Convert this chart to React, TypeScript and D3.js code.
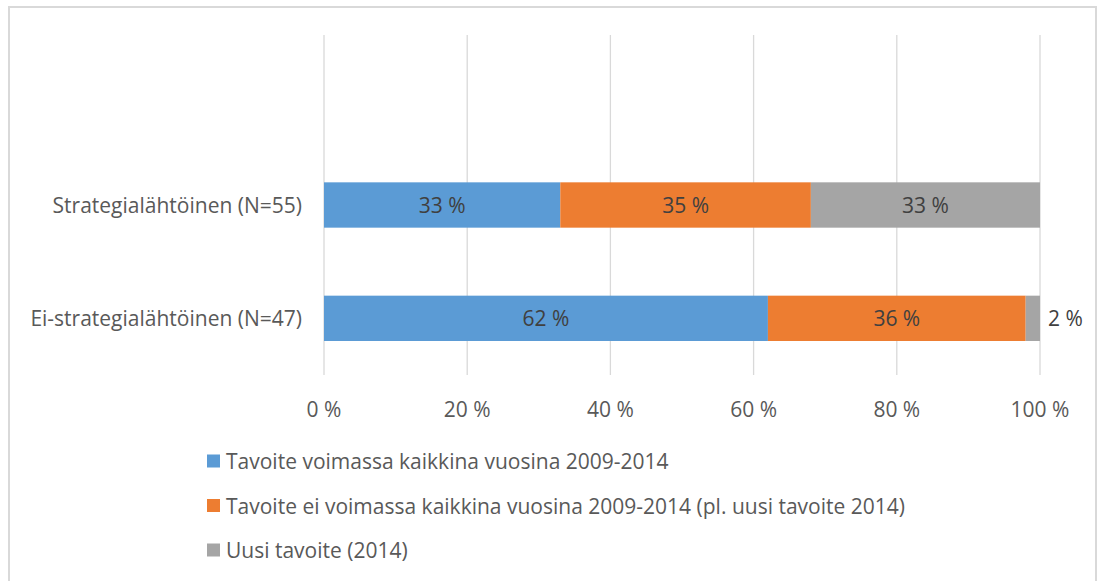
import React, { useEffect, useRef } from "react";
import * as d3 from "d3";

const categories = ["Strategialähtöinen (N=55)", "Ei-strategialähtöinen (N=47)"];
const seriesNames = [
  "Tavoite voimassa kaikkina vuosina 2009-2014",
  "Tavoite ei voimassa kaikkina vuosina 2009-2014 (pl. uusi tavoite 2014)",
  "Uusi tavoite (2014)",
];
const seriesColors = ["#5b9bd5", "#ed7d31", "#a5a5a5"];
// percent values per category, in series order
const valuesStrategia = [33, 35, 33];
const valuesEi = [62, 36, 2];
const tickValues = [0, 20, 40, 60, 80, 100];

const FONT = "'Open Sans', sans-serif";
const FS = 21;

export default function App() {
  const ref = useRef<SVGSVGElement>(null);

  useEffect(() => {
    const svg = d3.select(ref.current);
    svg.selectAll("*").remove();

    // outer border
    svg.append("rect")
      .attr("x", 9).attr("y", 7).attr("width", 1087).attr("height", 600)
      .attr("fill", "#fff").attr("stroke", "#d9d9d9").attr("stroke-width", 2);

    const x = d3.scaleLinear().domain([0, 100]).range([324, 1040]).clamp(true);
    const y = d3.scaleBand<string>()
      .domain(["__blank__", ...categories])
      .range([35, 375])
      .paddingInner(0.6).paddingOuter(0.3);

    // gridlines
    svg.append("g").selectAll("line").data(tickValues).join("line")
      .attr("x1", d => x(d)).attr("x2", d => x(d))
      .attr("y1", 35).attr("y2", 375)
      .attr("stroke", "#d9d9d9").attr("stroke-width", 1.3);

    // tick labels
    svg.append("g").selectAll("text").data(tickValues).join("text")
      .attr("x", d => x(d)).attr("y", 409)
      .attr("text-anchor", "middle").attr("dominant-baseline", "central")
      .attr("font-family", FONT).attr("font-size", FS).attr("fill", "#595959")
      .text(d => `${d} %`);

    const data = [valuesStrategia, valuesEi];
    const stackData = categories.map((c, i) => {
      let acc = 0;
      return data[i].map((v, s) => {
        const seg = { cat: c, s, v, x0: acc, x1: acc + v };
        acc += v;
        return seg;
      });
    });

    const bh = y.bandwidth();
    stackData.forEach(segs => {
      const g = svg.append("g");
      g.selectAll("rect").data(segs).join("rect")
        .attr("x", d => x(d.x0)).attr("width", d => x(d.x1) - x(d.x0))
        .attr("y", d => y(d.cat)!).attr("height", bh)
        .attr("fill", d => seriesColors[d.s]);
      g.selectAll("text").data(segs).join("text")
        .attr("x", d => d.v < 5 ? x(d.x1) + 8 : (x(d.x0) + x(d.x1)) / 2)
        .attr("y", d => y(d.cat)! + bh / 2)
        .attr("text-anchor", d => d.v < 5 ? "start" : "middle")
        .attr("dominant-baseline", "central")
        .attr("font-family", FONT).attr("font-size", FS)
        .attr("fill", "#404040")
        .text(d => `${Math.round(d.v)} %`);
    });

    // category labels
    svg.append("g").selectAll("text").data(categories).join("text")
      .attr("x", 302).attr("y", d => y(d)! + bh / 2)
      .attr("text-anchor", "end").attr("dominant-baseline", "central")
      .attr("font-family", FONT).attr("font-size", FS).attr("fill", "#595959")
      .text(d => d);

    // legend
    const lg = svg.append("g");
    seriesNames.forEach((name, i) => {
      const cy = 461 + i * 44.5;
      lg.append("rect").attr("x", 207).attr("y", cy - 6.5).attr("width", 13).attr("height", 13)
        .attr("fill", seriesColors[i]);
      lg.append("text").attr("x", 226).attr("y", cy)
        .attr("dominant-baseline", "central")
        .attr("font-family", FONT).attr("font-size", FS).attr("fill", "#595959")
        .text(name);
    });
  }, []);

  return (
    <svg ref={ref} width={1098} height={581}
      style={{ position: "absolute", left: 0, top: 0, display: "block" }} />
  );
}
